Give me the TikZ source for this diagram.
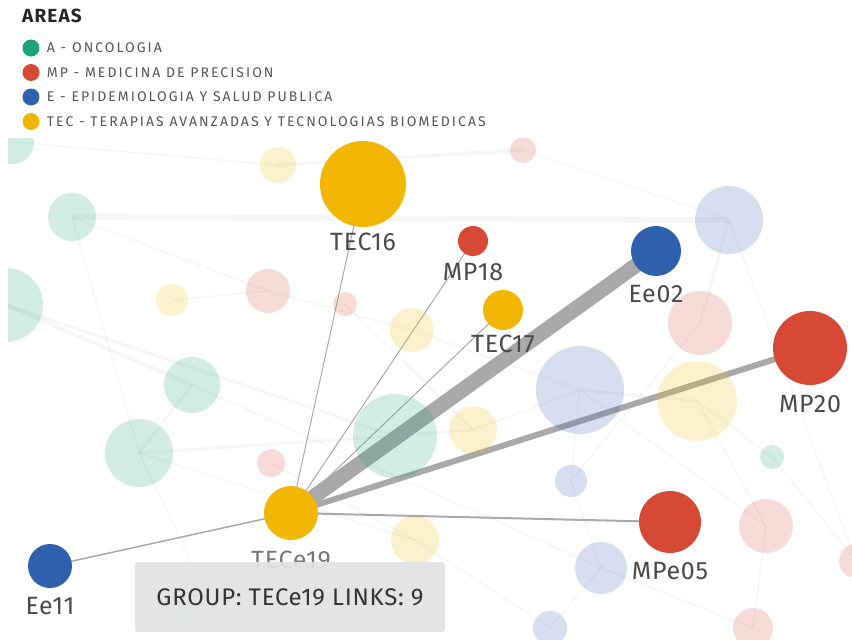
\documentclass[tikz,border=0pt]{standalone}
\usepackage{fontspec}
\setmainfont{Fira Sans}
\usepackage{xcolor}
\definecolor{OncoGreen}{HTML}{1AA37A}
\definecolor{PrecRed}{HTML}{D64A35}
\definecolor{EpiBlue}{HTML}{3061AE}
\definecolor{TecYellow}{HTML}{F2B705}
\definecolor{InkGray}{HTML}{4A4A4A}
\definecolor{LegGray}{HTML}{555555}
\definecolor{TipGray}{HTML}{E2E2E2}
\definecolor{LinkGray}{HTML}{A9A9A9}
\usepackage{tikz}
\usetikzlibrary{positioning}

\begin{document}
\begin{tikzpicture}[
  x=1pt,y=-1pt,
  dot/.style={circle,inner sep=0pt,minimum size=#1pt},
  ghost/.style={dot=#1,fill opacity=0.2},
  swatch/.style={dot=17},
  lbl/.style={inner sep=0pt,text=InkGray,font=\fontsize{25}{28}\selectfont\addfontfeatures{LetterSpace=3}},
  legtext/.style={inner sep=0pt,anchor=west,text=LegGray,font=\fontsize{14}{16}\selectfont\addfontfeatures{LetterSpace=14.5}},
  haze/.style={draw=black,draw opacity=0.035,line width=#1pt},
  haze/.default=1.5,
  link/.style={draw=LinkGray,line width=#1pt},
  link/.default=1,
  tip/.style={rounded corners=3pt,fill=TipGray,fill opacity=0.93,text opacity=1,text=black!80,
    minimum width=310pt,minimum height=70pt,font=\fontsize{24}{27}\selectfont\addfontfeatures{LetterSpace=3}}
]
\useasboundingbox (0,0) rectangle (852,640);

% legend
\node[inner sep=0pt,anchor=west,text=black!85,font=\fontsize{19}{21}\selectfont\bfseries\addfontfeatures{LetterSpace=6}] (areas) at (22,16) {AREAS};
\node[swatch,fill=OncoGreen] (sw-a) at (31,48) {};
\node[swatch,fill=PrecRed] (sw-mp) at (31,72.5) {};
\node[swatch,fill=EpiBlue] (sw-e) at (31,97) {};
\node[swatch,fill=TecYellow] (sw-tec) at (31,121.5) {};
\node[legtext,right=7pt of sw-a] {A - ONCOLOGIA};
\node[legtext,right=7pt of sw-mp] {MP - MEDICINA DE PRECISION};
\node[legtext,right=7pt of sw-e] {E - EPIDEMIOLOGIA Y SALUD PUBLICA};
\node[legtext,right=7pt of sw-tec] {TEC - TERAPIAS AVANZADAS Y TECNOLOGIAS BIOMEDICAS};

% group positions
\coordinate (tec16) at (363,184);
\coordinate (mp18) at (473,241);
\coordinate (tec17) at (503,310);
\coordinate (ee02) at (656,251);
\coordinate (mp20) at (810,348);
\coordinate (tece19) at (291,513);
\coordinate (mpe05) at (670,522);
\coordinate (ee11) at (50,566);

% other groups (faded)
\coordinate (g1) at (12,142);   \coordinate (g2) at (278,165);
\coordinate (g3) at (523,150);  \coordinate (g4) at (72,217);
\coordinate (g5) at (6,305);    \coordinate (g6) at (172,300);
\coordinate (g7) at (268,291);  \coordinate (g8) at (345,304);
\coordinate (g9) at (412,330);  \coordinate (g10) at (729,220);
\coordinate (g11) at (700,323); \coordinate (g12) at (580,390);
\coordinate (g13) at (697,401); \coordinate (g14) at (395,436);
\coordinate (g15) at (192,385); \coordinate (g16) at (139,453);
\coordinate (g17) at (271,463); \coordinate (g18) at (473,430);
\coordinate (g19) at (571,481); \coordinate (g20) at (772,457);
\coordinate (g21) at (766,526); \coordinate (g22) at (601,568);
\coordinate (g23) at (415,540); \coordinate (g24) at (550,628);
\coordinate (g25) at (753,628); \coordinate (g26) at (856,561);
\coordinate (g27) at (210,600);

\begin{scope}
\clip (8,138) rectangle (852,640);
% background links
\draw[haze=6] (g4) -- (g10);
\draw[haze=4] (g2) -- (g3);
\draw[haze=4] (g5) -- (g15);
\draw[haze=3] (g16) -- (g14);
\draw[haze] (g4) -- (g7);
\draw[haze] (g1) -- (g2);
\draw[haze=3] (g15) -- (g16);
\draw[haze=3] (g12) -- (g13);
\draw[haze] (g13) -- (g21);
\draw[haze] (g12) -- (g19);
\draw[haze] (g19) -- (g22);
\draw[haze] (g22) -- (g24);
\draw[haze] (g21) -- (g25);
\draw[haze=3] (g11) -- (g10);
\draw[haze] (g10) -- (g26);
\draw[haze=3] (g14) -- (g18);
\draw[haze] (g18) -- (g12);
\draw[haze] (g9) -- (g12);
\draw[haze] (g7) -- (g9);
\draw[haze] (g6) -- (g7);
\draw[haze] (g16) -- (g27);
\draw[haze] (g17) -- (g23);
\draw[haze] (g23) -- (g24);
\draw[haze] (g13) -- (g20);
\draw[haze] (g20) -- (g26);
\draw[haze=3] (g5) -- (g14);
\draw[haze] (g4) -- (g16);
\draw[haze] (g15) -- (g22);
\draw[haze] (g12) -- (g21);
\draw[haze] (g11) -- (g19);
\draw[haze] (g3) -- (g10);
\draw[haze] (g8) -- (g18);
\draw[haze] (g16) -- (g23);
\draw[haze] (g22) -- (g25);

% links of TECe19
\draw[link] (tece19) -- (tec16);
\draw[link] (tece19) -- (mp18);
\draw[link] (tece19) -- (tec17);
\draw[link=15] (tece19) -- (ee02);
\draw[link=6] (tece19) -- (mp20);
\draw[link=2] (tece19) -- (mpe05);
\draw[link=1.5] (tece19) -- (ee11);

\node[ghost=44,fill=OncoGreen] (g1-c) at (g1) {};
\node[ghost=36,fill=TecYellow] (g2-c) at (g2) {};
\node[ghost=26,fill=PrecRed] (g3-c) at (g3) {};
\node[ghost=48,fill=OncoGreen] (g4-c) at (g4) {};
\node[ghost=74,fill=OncoGreen] (g5-c) at (g5) {};
\node[ghost=32,fill=TecYellow] (g6-c) at (g6) {};
\node[ghost=44,fill=PrecRed] (g7-c) at (g7) {};
\node[ghost=24,fill=PrecRed] (g8-c) at (g8) {};
\node[ghost=44,fill=TecYellow] (g9-c) at (g9) {};
\node[ghost=68,fill=EpiBlue] (g10-c) at (g10) {};
\node[ghost=64,fill=PrecRed] (g11-c) at (g11) {};
\node[ghost=88,fill=EpiBlue] (g12-c) at (g12) {};
\node[ghost=80,fill=TecYellow] (g13-c) at (g13) {};
\node[ghost=84,fill=OncoGreen] (g14-c) at (g14) {};
\node[ghost=56,fill=OncoGreen] (g15-c) at (g15) {};
\node[ghost=68,fill=OncoGreen] (g16-c) at (g16) {};
\node[ghost=28,fill=PrecRed] (g17-c) at (g17) {};
\node[ghost=48,fill=TecYellow] (g18-c) at (g18) {};
\node[ghost=32,fill=EpiBlue] (g19-c) at (g19) {};
\node[ghost=24,fill=OncoGreen] (g20-c) at (g20) {};
\node[ghost=54,fill=PrecRed] (g21-c) at (g21) {};
\node[ghost=52,fill=EpiBlue] (g22-c) at (g22) {};
\node[ghost=48,fill=TecYellow] (g23-c) at (g23) {};
\node[ghost=34,fill=EpiBlue] (g24-c) at (g24) {};
\node[ghost=40,fill=PrecRed] (g25-c) at (g25) {};
\node[ghost=34,fill=PrecRed] (g26-c) at (g26) {};
\node[ghost=64,fill=OncoGreen,fill opacity=0.1] (g27-c) at (g27) {};
\end{scope}

% highlighted groups
\node[dot=86,fill=TecYellow] (tec16-c) at (tec16) {};
\node[dot=30,fill=PrecRed] (mp18-c) at (mp18) {};
\node[dot=40,fill=TecYellow] (tec17-c) at (tec17) {};
\node[dot=50,fill=EpiBlue] (ee02-c) at (ee02) {};
\node[dot=74,fill=PrecRed] (mp20-c) at (mp20) {};
\node[dot=54,fill=TecYellow] (tece19-c) at (tece19) {};
\node[dot=62,fill=PrecRed] (mpe05-c) at (mpe05) {};
\node[dot=44,fill=EpiBlue] (ee11-c) at (ee11) {};

\node[lbl,below=6pt of tec16-c] {TEC16};
\node[lbl,below=7pt of mp18-c] {MP18};
\node[lbl,below=5pt of tec17-c] {TEC17};
\node[lbl,below=9pt of ee02-c] {Ee02};
\node[lbl,below=10pt of mp20-c] {MP20};
\node[lbl,below=11pt of tece19-c,text=InkGray!75] {TECe19};
\node[lbl,below=9pt of mpe05-c] {MPe05};
\node[lbl,below=9pt of ee11-c] {Ee11};

% tooltip
\node[tip] (tooltip) at (290,597) {GROUP: TECe19 LINKS: 9};
\end{tikzpicture}
\end{document}
